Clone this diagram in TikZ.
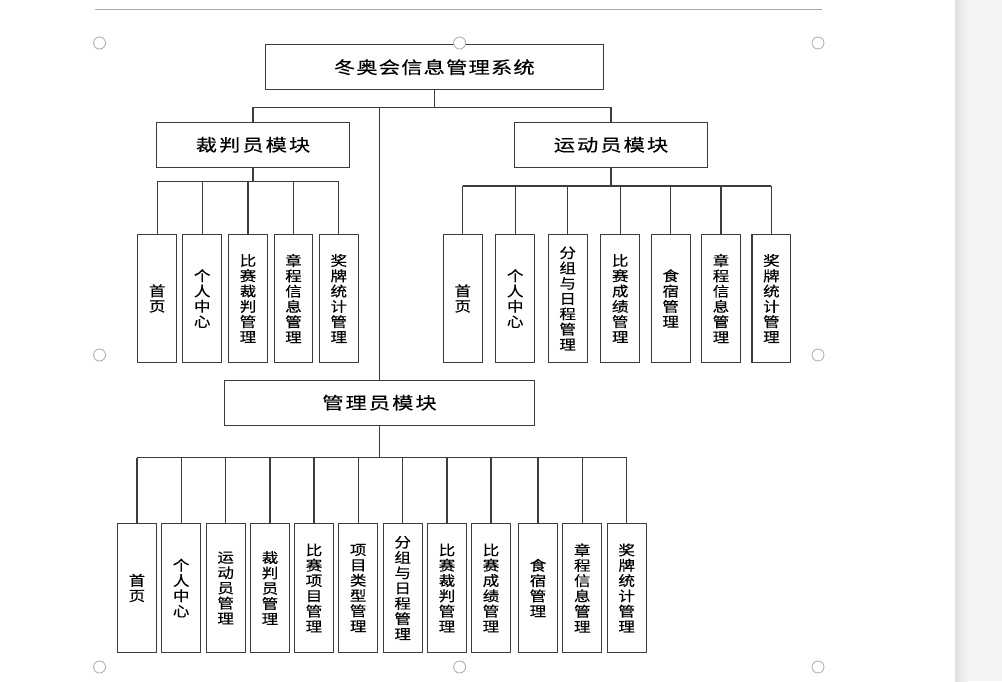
\documentclass[tikz,border=0pt]{standalone}
\usepackage{fontspec}
\newfontfamily\cjk{Noto Sans CJK SC}[FakeStretch=1.18, FakeBold=0.3]
\newfontfamily\cjkwide{Noto Sans CJK SC}[FakeStretch=1.25, LetterSpace=7, FakeBold=0.3]
\newfontfamily\cjkmod{Noto Sans CJK SC}[FakeStretch=1.25, LetterSpace=12, FakeBold=0.3]
\usetikzlibrary{calc}

\definecolor{linegray}{HTML}{3C3C3C}
\definecolor{handlegray}{HTML}{A8A8A8}
\definecolor{stripgray}{HTML}{F3F4F6}

\begin{document}
\begin{tikzpicture}[
    x=1pt, y=-1pt,
    wire/.style={linegray, line width=1.1pt},
    modbox/.style={draw=linegray, line width=1.1pt, font=\cjkmod\fontsize{17}{20}\selectfont, minimum height=45pt, inner sep=0pt},
    leafbox/.style={draw=linegray, line width=1.1pt, font=\cjk\fontsize{14}{15.3}\selectfont, align=center, minimum width=38.8pt, minimum height=128.5pt, inner sep=0pt},
    handle/.style={draw=handlegray, fill=white, line width=0.8pt}
    ]
    \useasboundingbox (0,0) rectangle (1002,681);
    % page edge on the right
    \fill[stripgray] (955,0) rectangle (1002,681);
    \shade[left color=black!12, right color=stripgray] (955,0) rectangle (968,681);
    \draw[handlegray, line width=0.8pt] (95,9) -- (822,9);

    % top levels
    \node[modbox, minimum width=338pt, font=\cjkwide\fontsize{17}{20}\selectfont] (root) at (434.3,67.2) {冬奥会信息管理系统};
    \node[modbox, minimum width=192.5pt] (judge) at (253,144.8) {裁判员模块};
    \node[modbox, minimum width=192.5pt] (athlete) at (611,144.8) {运动员模块};
    \node[modbox, minimum width=309.6pt] (admin) at (379.5,402.7) {管理员模块};

    % leaves
    \foreach \x/\t [count=\i] in {157.2/{首\\页}, 202.2/{个\\人\\中\\心}, 248/{比\\赛\\裁\\判\\管\\理},
        293.5/{章\\程\\信\\息\\管\\理}, 338.8/{奖\\牌\\统\\计\\管\\理}}
        \node[leafbox] (j\i) at (\x,298.5) {\t};
    \foreach \x/\t [count=\i] in {462.8/{首\\页}, 515.2/{个\\人\\中\\心}, 567.7/{分\\组\\与\\日\\程\\管\\理},
        620.2/{比\\赛\\成\\绩\\管\\理}, 670.7/{食\\宿\\管\\理}, 721/{章\\程\\信\\息\\管\\理},
        771.4/{奖\\牌\\统\\计\\管\\理}}
        \node[leafbox] (a\i) at (\x,298.5) {\t};
    \foreach \x/\t [count=\i] in {137/{首\\页}, 181.2/{个\\人\\中\\心}, 225.7/{运\\动\\员\\管\\理},
        270/{裁\\判\\员\\管\\理}, 314/{比\\赛\\项\\目\\管\\理}, 358.2/{项\\目\\类\\型\\管\\理},
        402.7/{分\\组\\与\\日\\程\\管\\理}, 447/{比\\赛\\裁\\判\\管\\理}, 491/{比\\赛\\成\\绩\\管\\理},
        538/{食\\宿\\管\\理}, 582.3/{章\\程\\信\\息\\管\\理}, 626.7/{奖\\牌\\统\\计\\管\\理}}
        \node[leafbox] (m\i) at (\x,588) {\t};

    % bus lines
    \coordinate (topbus) at (0,107.7);
    \coordinate (jbus) at (0,181.7);
    \coordinate (abus) at (0,186);
    \coordinate (mbus) at (0,457.7);

    \draw[wire] (root.south) -- (root.south |- topbus);
    \draw[wire] (judge.north) |- (athlete.north |- topbus) -- (athlete.north);
    \draw[wire] (admin.north |- topbus) -- (admin.north);

    \draw[wire] (judge.south) -- (judge.south |- jbus);
    \draw[wire] (j1.north |- jbus) -- (j5.north |- jbus);
    \foreach \i in {1,...,5}
        \draw[wire] (j\i.north) -- (j\i.north |- jbus);

    \draw[wire] (athlete.south) -- (athlete.south |- abus);
    \draw[wire] (a1.north |- abus) -- (a7.north |- abus);
    \foreach \i in {1,...,7}
        \draw[wire] (a\i.north) -- (a\i.north |- abus);

    \draw[wire] (admin.south) -- (admin.south |- mbus);
    \draw[wire] (m1.north |- mbus) -- (m12.north |- mbus);
    \foreach \i in {1,...,12}
        \draw[wire] (m\i.north) -- (m\i.north |- mbus);

    % selection handles
    \foreach \hx/\hy [count=\i] in {99.5/43, 459.6/43, 818/43, 99.5/355, 818/355, 99.5/667, 459.6/667, 818/667}
        \draw[handle] (\hx,\hy) circle (6pt) coordinate (h\i);
\end{tikzpicture}
\end{document}
